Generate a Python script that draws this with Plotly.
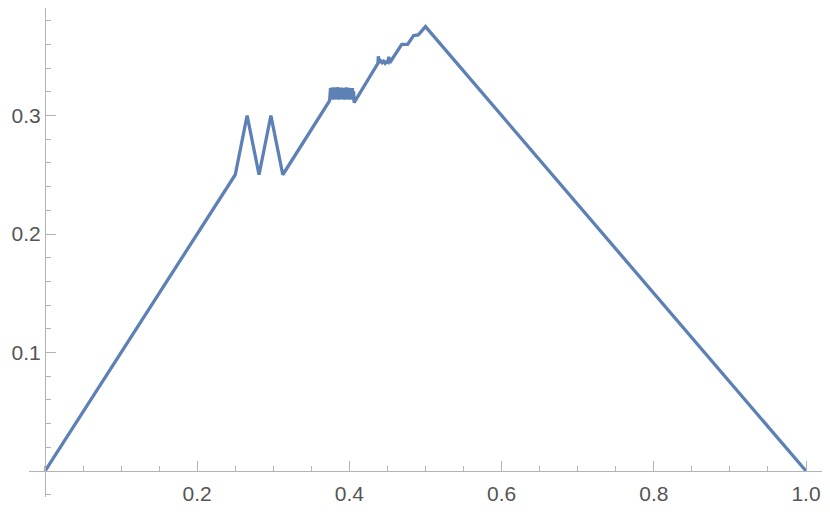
import plotly.graph_objects as go

# ramp from the origin and the two spikes
left_x = [0.0, 0.25, 0.265625, 0.28125, 0.296875, 0.3125, 0.3740]
left_y = [0.0, 0.25, 0.300, 0.250, 0.300, 0.250, 0.3125]

# dense jagged block near x = 0.375..0.406
block_x = [0.3752, 0.3760, 0.3768, 0.3776, 0.3784, 0.3792, 0.3800, 0.3808,
           0.3816, 0.3824, 0.3832, 0.3840, 0.3848, 0.3856, 0.3864, 0.3872,
           0.3880, 0.3888, 0.3896, 0.3904, 0.3912, 0.3920, 0.3928, 0.3936,
           0.3944, 0.3952, 0.3960, 0.3968, 0.3976, 0.3984, 0.3992, 0.4000,
           0.4008, 0.4016, 0.4024, 0.4032, 0.4040, 0.4048, 0.4056, 0.4062]
block_y = [0.3230, 0.3135, 0.3236, 0.3138, 0.3228, 0.3134, 0.3238, 0.3137,
           0.3229, 0.3135, 0.3233, 0.3139, 0.3240, 0.3134, 0.3231, 0.3136,
           0.3227, 0.3138, 0.3236, 0.3135, 0.3230, 0.3137, 0.3234, 0.3134,
           0.3228, 0.3138, 0.3237, 0.3135, 0.3229, 0.3136, 0.3233, 0.3134,
           0.3230, 0.3138, 0.3226, 0.3135, 0.3231, 0.3133, 0.3205, 0.3108]

# small wiggle, the steps and the peak, then the descent
upper_x = [0.4375, 0.4380, 0.4390, 0.4410, 0.4430, 0.4450, 0.4470, 0.4490,
           0.4508, 0.4518, 0.4531, 0.46875, 0.4765, 0.4844, 0.4905, 0.5, 1.0]
upper_y = [0.3440, 0.3500, 0.3448, 0.3462, 0.3445, 0.3458, 0.3440, 0.3455,
           0.3448, 0.3495, 0.3445, 0.3600, 0.3600, 0.3675, 0.3680, 0.375, 0.0]

x_ticks = [0.2, 0.4, 0.6, 0.8, 1.0]
x_tick_text = ['0.2', '0.4', '0.6', '0.8', '1.0']
y_ticks = [0.1, 0.2, 0.3]
y_tick_text = ['0.1', '0.2', '0.3']

x_range = [-0.021, 1.021]
y_range = [-0.0219, 0.3907]

line_color = '#5E81B5'
axis_color = '#b3b3b3'
label_font = dict(family='Liberation Sans, Arial', size=21, color='#555555')

trace = go.Scatter(
    x=left_x + block_x + upper_x,
    y=left_y + block_y + upper_y,
    mode='lines',
    line=dict(color=line_color, width=3.3),
    showlegend=False)

# the page body keeps its 8px margin, so the figure is 16px smaller each way
layout = dict(
    width=814, height=496,
    margin=dict(l=21, r=0, t=0, b=7),
    paper_bgcolor='white', plot_bgcolor='white',
    xaxis=dict(
        range=x_range, anchor='free',
        position=(0 - y_range[0]) / (y_range[1] - y_range[0]),
        showline=True, linecolor=axis_color, linewidth=1,
        showgrid=False, zeroline=False, automargin=False,
        tickmode='array', tickvals=x_ticks, ticktext=x_tick_text,
        ticks='inside', ticklen=10, tickcolor=axis_color, tickwidth=1,
        tickfont=label_font, ticklabelstandoff=4,
        minor=dict(dtick=0.05, tick0=0, ticks='inside', ticklen=5,
                   tickcolor=axis_color, showgrid=False)),
    yaxis=dict(
        range=y_range, anchor='free',
        position=(0 - x_range[0]) / (x_range[1] - x_range[0]),
        showline=True, linecolor=axis_color, linewidth=1,
        showgrid=False, zeroline=False, automargin=False,
        tickmode='array', tickvals=y_ticks, ticktext=y_tick_text,
        ticks='inside', ticklen=10, tickcolor=axis_color, tickwidth=1,
        tickfont=label_font, ticklabelstandoff=0,
        minor=dict(dtick=0.02, tick0=0, ticks='inside', ticklen=5,
                   tickcolor=axis_color, showgrid=False)))

fig = go.Figure(data=[trace], layout=layout)
fig.write_html("out.html")
